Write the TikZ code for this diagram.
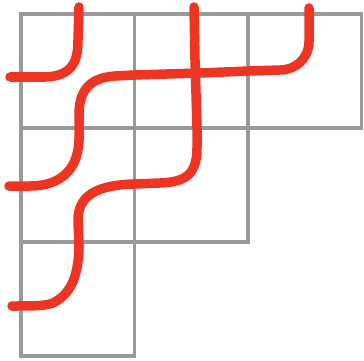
\documentclass[tikz,border=0pt]{standalone}
\usetikzlibrary{positioning}

\definecolor{pipered}{HTML}{EE3524}
\definecolor{gridgray}{HTML}{999999}

\begin{document}
\begin{tikzpicture}[x=1pt, y=-1pt,
    cell/.style = {draw=gridgray, line width=3.6pt},
    pipe/.style = {draw=pipered, line width=9.5pt, line cap=round, line join=round},
]
    \useasboundingbox (0,0) rectangle (364,361);

    % ── Staircase grid ──
    \foreach \c/\r in {0/0, 1/0, 2/0, 0/1, 1/1, 0/2}
        \draw[cell] (21+113.5*\c, 14+114*\r) rectangle ++(113.5,114);

    % ── Pipes ──
    \draw[pipe] (10,77) -- (45,77) .. controls (72,76) and (78,62) .. (78,40) -- (79,7);
    \draw[pipe] (194,7) -- (195,60) -- (197,128) -- (197,148)
        .. controls (197,175) and (185,182) .. (160,183) -- (134,184)
        .. controls (98,185) and (78,195) .. (78,220) -- (79,248)
        .. controls (78,275) and (72,292) .. (55,302) .. controls (48,306) and (35,306) .. (12,306);
    \draw[pipe] (309,8) -- (309,42) .. controls (309,58) and (296,70) .. (280,70)
        -- (248,71) -- (200,73) -- (134,75) -- (115,76)
        .. controls (88,78) and (79,92) .. (79,115) -- (79,135)
        .. controls (80,168) and (62,186) .. (30,186) -- (9,186);
\end{tikzpicture}
\end{document}
